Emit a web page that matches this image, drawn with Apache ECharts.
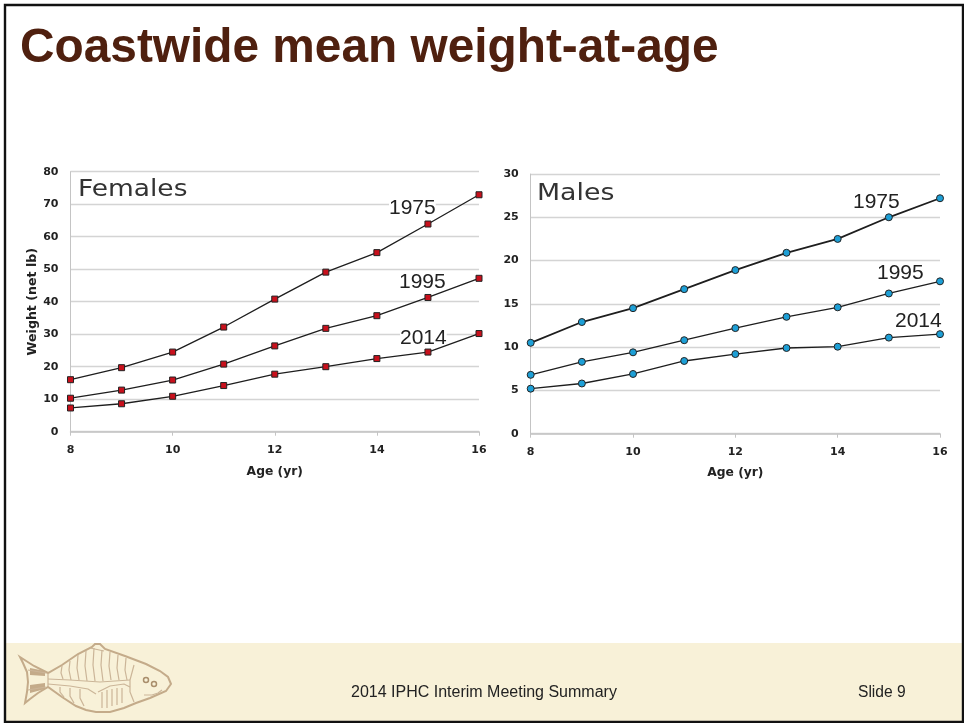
<!DOCTYPE html>
<html><head><meta charset="utf-8">
<style>html,body{margin:0;padding:0;background:#fff}#c{width:964px;height:723px}</style>
<script src="https://cdn.jsdelivr.net/npm/echarts@6/dist/echarts.min.js"></script>
</head><body><div id="c"></div>
<script>
const ages=[8,9,10,11,12,13,14,15,16];
const female1975=[16,19.7,24.5,32.2,40.8,49.1,55.1,63.9,72.9];
const female1995=[10.3,12.8,15.9,20.8,26.4,31.8,35.7,41.3,47.2];
const female2014=[7.3,8.6,10.9,14.2,17.7,20,22.5,24.5,30.2];
const male1975=[10.5,12.9,14.5,16.7,18.9,20.9,22.5,25,27.2];
const male1995=[6.8,8.3,9.4,10.8,12.2,13.5,14.6,16.2,17.6];
const male2014=[5.2,5.8,6.9,8.4,9.2,9.9,10.05,11.1,11.5];

const AX='"DejaVu Sans",Verdana,sans-serif', AR='"Liberation Sans",Arial,sans-serif';
const pairs=v=>v.map((y,i)=>[ages[i],y]);
const xAx=(g,gap)=>({type:'value',gridIndex:g,min:8,max:16,interval:2,name:'Age (yr)',nameLocation:'middle',nameGap:gap,nameMoveOverlap:false,
  nameTextStyle:{fontFamily:AX,fontWeight:'bold',fontSize:12.3,color:'#222'},
  axisLine:{show:true,lineStyle:{color:'#c4c4c4',width:1.5}},axisTick:{show:true,length:4,lineStyle:{color:'#c4c4c4'}},
  splitLine:{show:false},axisLabel:{fontFamily:AX,fontWeight:'bold',fontSize:11,color:'#222',margin:13,showMinLabel:true,showMaxLabel:true}});
const yAx=(g,max,int,name)=>({type:'value',gridIndex:g,min:0,max:max,interval:int,name:name,nameLocation:'middle',nameGap:31,nameRotate:90,nameMoveOverlap:false,
  nameTextStyle:{fontFamily:AX,fontWeight:'bold',fontSize:12.6,color:'#222'},
  axisLine:{show:true,lineStyle:{color:'#c4c4c4',width:1}},axisTick:{show:false},
  splitLine:{show:true,lineStyle:{color:'#d4d4d4',width:1.3}},
  axisLabel:{fontFamily:AX,fontWeight:'bold',fontSize:11,color:'#222',margin:12}});
const ser=(name,g,v,sym,size,col,w)=>({type:'line',name,xAxisIndex:g,yAxisIndex:g,data:pairs(v),symbol:sym,symbolSize:size,showSymbol:true,
  silent:true,animation:false,lineStyle:{color:'#1e1e1e',width:w},itemStyle:{color:col,borderColor:'#222',borderWidth:1,opacity:1}});
const red='#c8101c', blue='#1d9fd6';
const txt=(x,y,s,size,fam,extra,el)=>Object.assign({type:'text',x:x,y:y,z:1,silent:true,style:Object.assign({text:s,fontSize:size,fontFamily:fam,fill:'#222'},extra||{})},el||{});

const fishOutline=[[20,657],[34,666],[48,673],[62,665],[78,654],[92,647],[95,644],[100,644],[105,649],[125,656],[146,664],[160,671],[168,677],[171,684],[166,691],[150,698],[136,703],[124,708],[110,712],[96,712],[86,710],[76,706],[62,697],[48,687],[38,693],[30,699],[25,703],[27,692],[28,682],[27,672],[23,663]];
const fishDetail=[[[48,673],[48,687]],[[28,670],[46,673]],[[28,690],[46,687]],[[48,679],[70,680],[100,682],[130,680]],[[48,684],[70,686],[88,689],[96,694]],
 [[62,666],[61,673],[63,679]],[[70,661],[69,670],[71,680]],[[78,655],[77,668],[79,680]],[[86,651],[85,666],[87,681]],[[94,648],[93,665],[95,681]],
 [[102,650],[101,665],[103,681]],[[110,652],[109,666],[111,680]],[[118,655],[117,668],[119,680]],[[126,658],[125,670],[127,680]],
 [[134,665],[130,680],[130,692],[134,702]],[[60,687],[60,692],[64,697]],[[70,688],[70,696],[74,703]],[[80,689],[80,698],[84,706]],
 [[102,692],[102,708]],[[107,690],[107,708]],[[112,689],[112,706]],[[117,688],[117,705]],[[122,688],[122,703]],[[98,692],[110,686],[124,684],[130,687]],[[90,648],[104,651]],[[144,695],[152,695],[158,693],[162,690]]];
const fishFill=[[[30,668],[45,671],[45,676],[30,675]],[[30,685],[45,683],[45,689],[30,693]]];

const option={
  animation:false,
  grid:[{left:70.5,top:171.7,width:408.5,height:260},{left:530.7,top:174,width:409.3,height:259.7}],
  xAxis:[xAx(0,34),xAx(1,33)],
  yAxis:[yAx(0,80,10,'Weight (net lb)'),yAx(1,30,5,'')],
  series:[
    ser('1975 F',0,female1975,'rect',6,red,1.3),
    ser('1995 F',0,female1995,'rect',6,red,1.3),
    ser('2014 F',0,female2014,'rect',6,red,1.3),
    ser('1975 M',1,male1975,'circle',7,blue,1.8),
    ser('1995 M',1,male1995,'circle',7,blue,1.3),
    ser('2014 M',1,male2014,'circle',7,blue,1.3)
  ],
  graphic:{elements:[
    {type:'rect',z:-10,silent:true,shape:{x:5,y:643,width:957,height:78},style:{fill:'#f8f1d8'}},
    {type:'rect',z:100,silent:true,shape:{x:5,y:5,width:958,height:717},style:{fill:'none',stroke:'#111',lineWidth:2.4}},
    {type:'polygon',z:-5,silent:true,shape:{points:fishOutline},style:{fill:'#f8f1d8',stroke:'#c4ab8a',lineWidth:2}},
    ...fishFill.map(p=>({type:'polygon',z:-4,silent:true,shape:{points:p},style:{fill:'#c4ab8a'}})),
    ...fishDetail.map(p=>({type:'polyline',z:-4,silent:true,shape:{points:p},style:{fill:'none',stroke:'#cbb598',lineWidth:1.2}})),
    {type:'circle',z:-4,silent:true,shape:{cx:146,cy:680,r:2.5},style:{fill:'none',stroke:'#a98e6c',lineWidth:1.5}},
    {type:'circle',z:-4,silent:true,shape:{cx:154,cy:684,r:2.5},style:{fill:'none',stroke:'#a98e6c',lineWidth:1.5}},
    txt(20,25,'Coastwide mean weight-at-age',47.8,AR,{fontWeight:'bold',fill:'#4f200f'}),
    txt(78,179,'Females',23,'"DejaVu Sans"',{fill:'#333'},{scaleX:1.15}),
    txt(537,183,'Males',23,'"DejaVu Sans"',{fill:'#333'},{scaleX:1.165}),
    txt(389,198,'1975',21,AR,{backgroundColor:'#fff'}),txt(399,272,'1995',21,AR),txt(400,328,'2014',21,AR,{backgroundColor:'#fff'}),
    txt(853,192,'1975',21,AR),txt(877,263,'1995',21,AR),txt(895,311,'2014',21,AR),
    txt(351,685,'2014 IPHC Interim Meeting Summary',16,AR,{fill:'#222'}),
    txt(858,685,'Slide 9',15.6,AR,{fill:'#222'})
  ]}
};
echarts.init(document.getElementById('c'),null,{renderer:'canvas'}).setOption(option);
</script></body></html>
